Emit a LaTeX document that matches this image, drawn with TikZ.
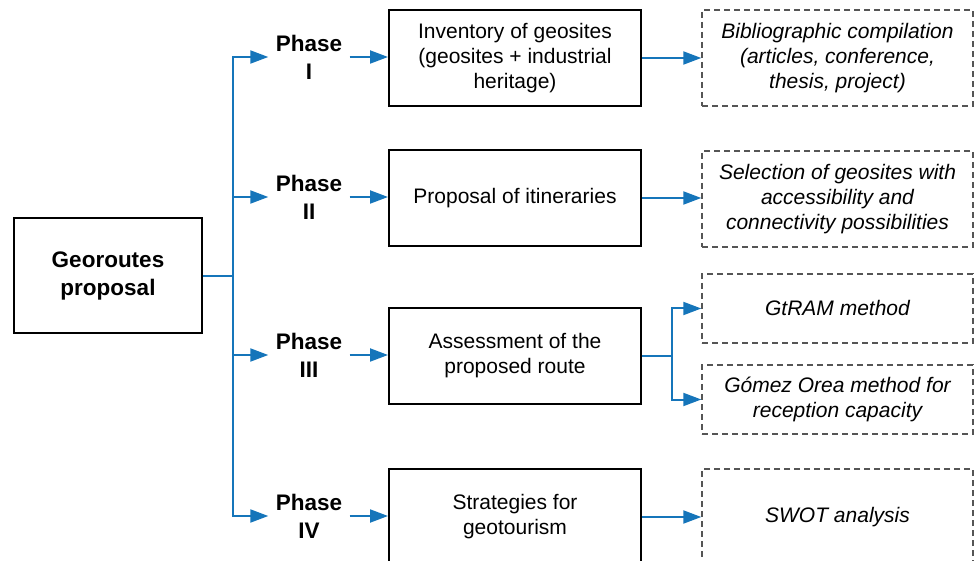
\documentclass[tikz,border=0pt]{standalone}
\usepackage{fontspec}
\setmainfont{Liberation Sans}
\usetikzlibrary{arrows.meta}
\definecolor{flowblue}{RGB}{21,117,186}
\definecolor{dashgray}{RGB}{85,85,85}
\tikzset{
  solidbox/.style={draw=black, line width=2pt, fill=white, minimum width=252pt, minimum height=96pt, inner sep=0pt, align=center, font=\fontsize{21}{25}\selectfont},
  dashbox/.style={draw=dashgray, line width=1.4pt, dash pattern=on 6pt off 4pt, minimum width=271pt, inner sep=0pt, align=center, font=\fontsize{21}{25}\selectfont\itshape},
  phasenode/.style={minimum width=81pt, inner sep=0pt, align=center, font=\fontsize{22.5}{28}\selectfont\bfseries},
  flow/.style={draw=flowblue, line width=2pt},
  flowarr/.style={flow, -{Triangle[length=18pt,width=13pt]}},
}
\begin{document}
\begin{tikzpicture}[x=1pt, y=-1pt]
\useasboundingbox (0,0) rectangle (975,561);
% main node
\node[draw=black, line width=2pt, minimum width=188pt, minimum height=115pt, inner sep=0pt, align=center, font=\fontsize{22.5}{28}\selectfont\bfseries] (geo) at (108,276) {Georoutes\\proposal};
% phases
\node[phasenode] (ph1) at (309,57) {Phase\\I};
\node[phasenode] (ph2) at (309,197) {Phase\\II};
\node[phasenode] (ph3) at (309,355) {Phase\\III};
\node[phasenode] (ph4) at (309,516) {Phase\\IV};
% solid boxes
\node[solidbox] (b1) at (515,58) {Inventory of geosites\\(geosites + industrial\\heritage)};
\node[solidbox] (b2) at (515,198) {Proposal of itineraries};
\node[solidbox] (b3) at (515,356) {Assessment of the\\proposed route};
\node[solidbox] (b4) at (515,517) {Strategies for\\geotourism};
% dashed boxes
\node[dashbox, minimum height=96pt] (d1) at (837.5,58) {Bibliographic compilation\\(articles, conference,\\thesis, project)};
\node[dashbox, minimum height=96pt] (d2) at (837.5,199) {Selection of geosites with\\accessibility and\\connectivity possibilities};
\node[dashbox, minimum height=69pt] (d3) at (837.5,308.5) {GtRAM method};
\node[dashbox, minimum height=69pt] (d4) at (837.5,399.5) {Gómez Orea method for\\reception capacity};
\node[dashbox, minimum height=96pt] (d5) at (837.5,517) {SWOT analysis};
% connectors
\coordinate (trunk) at (233,276);
\coordinate (split) at (672,356);
\draw[flow] (geo.east) -- (trunk);
\draw[flowarr] (trunk) |- (ph1.west);
\draw[flowarr] (trunk) |- (ph2.west);
\draw[flowarr] (trunk) |- (ph3.west);
\draw[flowarr] (trunk) |- (ph4.west);
\draw[flowarr] (ph1.east) -- (b1.west |- ph1.east);
\draw[flowarr] (ph2.east) -- (b2.west |- ph2.east);
\draw[flowarr] (ph3.east) -- (b3.west |- ph3.east);
\draw[flowarr] (ph4.east) -- (b4.west |- ph4.east);
\draw[flowarr] (b1.east) -- (d1.west |- b1.east);
\draw[flowarr] (b2.east) -- (d2.west |- b2.east);
\draw[flow] (b3.east) -- (split);
\draw[flowarr] (split) |- (d3.west);
\draw[flowarr] (split) |- (d4.west);
\draw[flowarr] (b4.east) -- (d5.west |- b4.east);
\end{tikzpicture}
\end{document}
